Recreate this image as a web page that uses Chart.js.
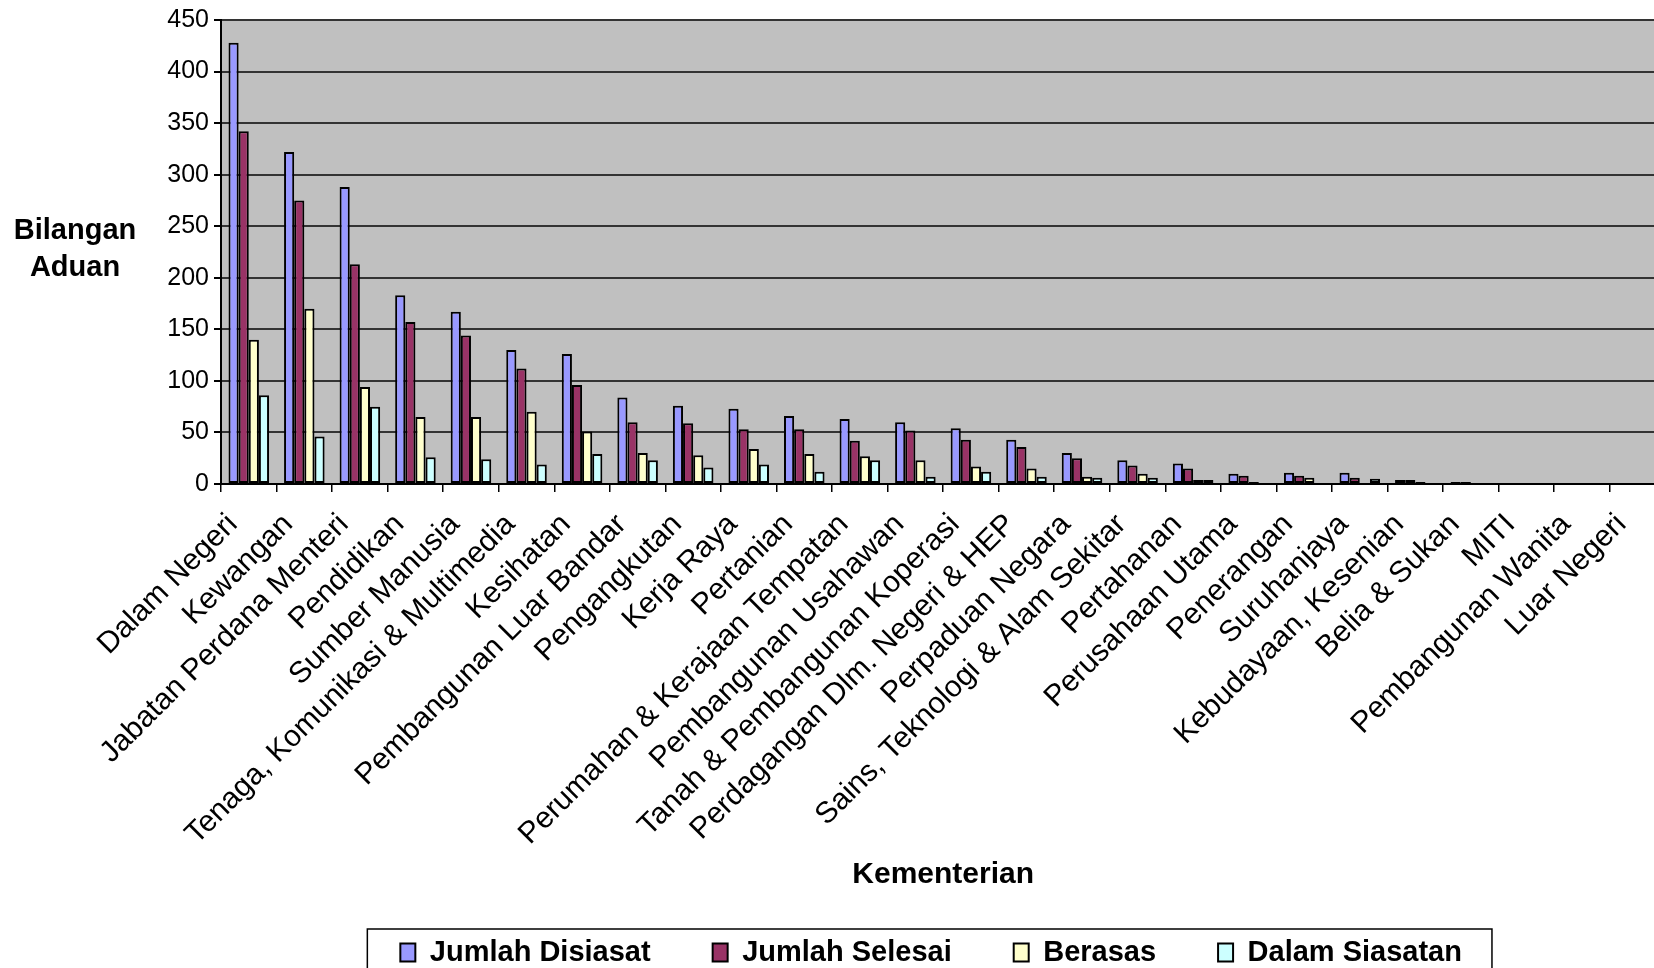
<!DOCTYPE html>
<html>
<head>
<meta charset="utf-8">
<script src="https://cdn.jsdelivr.net/npm/chart.js@4.4.1/dist/chart.umd.min.js"></script>
<style>
  html, body { margin: 0; padding: 0; background: #fff; overflow: hidden; }
</style>
</head>
<body>
<canvas id="grafikAduan" width="1678" height="977"></canvas>
<script>
const kementerian = [
  "Dalam Negeri", "Kewangan", "Jabatan Perdana Menteri", "Pendidikan", "Sumber Manusia",
  "Tenaga, Komunikasi & Multimedia", "Kesihatan", "Pembangunan Luar Bandar", "Pengangkutan",
  "Kerja Raya", "Pertanian", "Perumahan & Kerajaan Tempatan", "Pembangunan Usahawan",
  "Tanah & Pembangunan Koperasi", "Perdagangan Dlm. Negeri & HEP", "Perpaduan Negara",
  "Sains, Teknologi & Alam Sekitar", "Pertahanan", "Perusahaan Utama", "Penerangan",
  "Suruhanjaya", "Kebudayaan, Kesenian", "Belia & Sukan", "MITI", "Pembangunan Wanita", "Luar Negeri"
];
const jumlahDisiasat = [428, 322, 288, 183, 167, 130, 126, 84, 76, 73, 66, 63, 60, 54, 43, 30, 23, 20, 10, 11, 11, 4, 2, 1, 1, 1];
const jumlahSelesai  = [342, 275, 213, 157, 144, 112, 96, 60, 59, 53, 53, 42, 52, 43, 36, 25, 18, 15, 8, 8, 6, 4, 2, 1, 1, 0];
const berasas        = [140, 170, 94, 65, 65, 70, 51, 30, 28, 34, 29, 27, 23, 17, 15, 7, 10, 4, 2, 6, 1, 2, 1, 1, 0, 0];
const dalamSiasatan  = [86, 46, 75, 26, 24, 19, 29, 23, 16, 19, 12, 23, 7, 12, 7, 6, 6, 4, 1, 1, 5, 0, 0, 0, 0, 1];
const yTicks = [0, 50, 100, 150, 200, 250, 300, 350, 400, 450];

const FONT = "'Liberation Sans', Arial, sans-serif";
const PAD_LEGENDA = 62; // jarak antara item legenda (juga ditambah ke tinggi legenda)

function siri(label, data, warna) {
  return {
    label: label,
    data: data,
    backgroundColor: warna,
    borderColor: '#000',
    borderWidth: 2,
    borderSkipped: false,
    barPercentage: 1,
    categoryPercentage: 0.73
  };
}

// latar kelabu kawasan plot, tajuk paksi Y (mendatar) dan kotak legenda
const hiasan = {
  id: 'hiasan',
  afterLayout(chart) {
    // geser legenda sedikit ke kiri supaya sama dengan asal
    if (chart.legend) {
      chart.legend.left -= 12;
      chart.legend.right -= 12;
    }
  },
  beforeDraw(chart) {
    const a = chart.chartArea;
    const c = chart.ctx;
    c.save();
    c.fillStyle = '#C0C0C0';
    c.fillRect(a.left, a.top, a.right - a.left, a.bottom - a.top);
    c.restore();
  },
  afterDraw(chart) {
    const c = chart.ctx;
    c.save();
    c.fillStyle = '#000';
    c.font = 'bold 29px ' + FONT;
    c.textAlign = 'center';
    c.textBaseline = 'middle';
    c.fillText('Bilangan', 75, 231);
    c.fillText('Aduan', 75, 268);

    const lg = chart.legend;
    if (lg && lg.legendHitBoxes.length) {
      const hb = lg.legendHitBoxes;
      const kiri = hb[0].left - 33;
      const kanan = hb[hb.length - 1].left + hb[hb.length - 1].width + 30;
      const atas = lg.top + PAD_LEGENDA - 9;
      c.strokeStyle = '#000';
      c.lineWidth = 1.5;
      c.strokeRect(kiri, atas, kanan - kiri, 80);
    }
    c.restore();
  }
};

const ctx = document.getElementById('grafikAduan').getContext('2d');
new Chart(ctx, {
  type: 'bar',
  data: {
    labels: kementerian,
    datasets: [
      siri('Jumlah Disiasat', jumlahDisiasat, '#9999FF'),
      siri('Jumlah Selesai', jumlahSelesai, '#993366'),
      siri('Berasas', berasas, '#FFFFCC'),
      siri('Dalam Siasatan', dalamSiasatan, '#CCFFFF')
    ]
  },
  options: {
    responsive: false,
    animation: false,
    devicePixelRatio: 1,
    layout: { padding: { left: 0, right: 1, top: 14, bottom: 0 } },
    plugins: {
      legend: {
        position: 'bottom',
        fullSize: false,
        labels: {
          color: '#000',
          font: { family: FONT, size: 29, weight: 'bold' },
          boxWidth: 15,
          boxHeight: 18,
          padding: PAD_LEGENDA
        }
      },
      tooltip: { enabled: false }
    },
    scales: {
      x: {
        grid: { offset: true, drawOnChartArea: false, color: '#000', lineWidth: 1.5, tickLength: 8 },
        border: { color: '#000', width: 2 },
        ticks: {
          autoSkip: false, minRotation: 45, maxRotation: 45,
          color: '#000', font: { family: FONT, size: 30 }, padding: 15, labelOffset: -16
        },
        title: {
          display: true, text: 'Kementerian', color: '#000',
          font: { family: FONT, size: 30, weight: 'bold' },
          padding: { top: 0, bottom: -17 }
        },
        afterFit(s) { s.height = 454 - PAD_LEGENDA; }
      },
      y: {
        min: 0, max: 450,
        afterBuildTicks(s) { s.ticks = yTicks.map(v => ({ value: v })); },
        grid: { color: '#333', lineWidth: 2, tickLength: 7, tickColor: '#000' },
        border: { color: '#000', width: 2 },
        ticks: { color: '#000', font: { family: FONT, size: 25 }, padding: 5 },
        afterFit(s) { s.width = 221; }
      }
    }
  },
  plugins: [hiasan]
});
</script>
</body>
</html>
